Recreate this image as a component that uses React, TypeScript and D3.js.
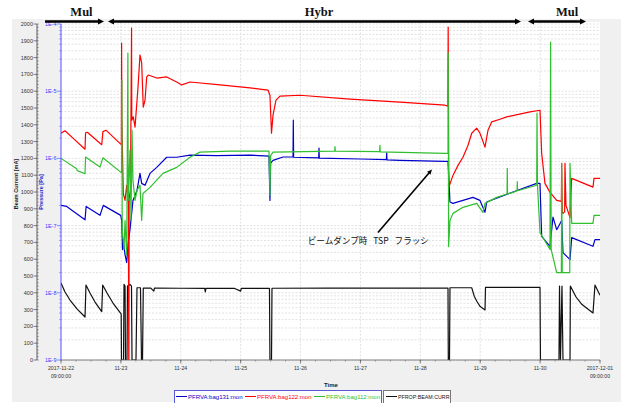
import * as d3 from "d3";

type Pt = [number, number];

const DAY_MS = 86400000;
const START = new Date(2017, 10, 22, 9, 0, 0);
const END = new Date(2017, 11, 1, 9, 0, 0);

// [days since 2017-11-22 09:00, value]
const bag131: Pt[] = [
  [0, 2.0e-7], [0.095, 1.93e-7], [0.401, 1.22e-7], [0.42, 1.93e-7], [0.651, 1.42e-7],
  [0.706, 2.0e-7], [0.997, 1.42e-7], [1.014, 1.19e-7], [1.027, 4.4e-8], [1.035, 6.19e-8],
  [1.069, 3.7e-8], [1.097, 2.82e-8], [1.119, 5.21e-8], [1.152, 8.7e-8], [1.202, 2.37e-7],
  [1.269, 3.34e-7], [1.319, 5.98e-7], [1.347, 4.25e-7], [1.403, 3.98e-7], [1.486, 5.98e-7],
  [1.598, 7.35e-7], [1.765, 1.04e-6], [1.932, 1.04e-6], [2.154, 1.12e-6], [2.6, 1.1e-6],
  [3.156, 1.12e-6], [3.473, 1.08e-6], [3.489, 2.37e-7], [3.5, 8.5e-7], [3.54, 9.33e-7],
  [3.707, 1.05e-6], [3.874, 1.05e-6], [3.879, 3.7e-6], [3.884, 1.04e-6], [4.303, 1.02e-6],
  [4.308, 1.42e-6], [4.313, 1.01e-6], [5.0, 9.8e-7], [5.433, 9.6e-7], [5.438, 1.21e-6],
  [5.443, 9.5e-7], [5.66, 9.33e-7], [6.412, 9.02e-7], [6.462, 9.02e-7], [6.495, 2.24e-7],
  [6.545, 2.14e-7], [6.712, 2.37e-7], [6.879, 2.63e-7], [6.996, 2.37e-7], [7.08, 1.58e-7],
  [7.108, 2.24e-7], [7.547, 3.16e-7], [7.943, 4.25e-7], [7.998, 4.25e-7], [8.026, 6.93e-8],
  [8.165, 4.92e-8], [8.215, 1.34e-7], [8.277, 8.7e-8], [8.36, 1.19e-7], [8.382, 3.96e-8],
  [8.444, 3.49e-8], [8.499, 3.12e-8], [8.527, 6.63e-8], [8.883, 4.92e-8], [8.916, 6.19e-8],
  [9, 6.19e-8],
];

const bag122: Pt[] = [
  [0, 2.37e-6], [0.067, 2.58e-6], [0.2, 2.0e-6], [0.401, 1.37e-6], [0.41, 2.4e-6],
  [0.44, 2.45e-6], [0.651, 1.68e-6], [0.68, 1.6e-6], [0.7, 2.5e-6], [0.751, 2.63e-6],
  [0.997, 1.63e-6], [1.008, 1.65e-6], [1.012, 5.2e-5], [1.016, 4e-6], [1.04, 3.0e-7],
  [1.069, 2.37e-7], [1.097, 3.98e-7], [1.124, 2.14e-7], [1.133, 4.0e-10], [1.138, 2.5e-7],
  [1.16, 3.5e-7], [1.178, 8.7e-5], [1.182, 3.7e-6], [1.207, 4.15e-6], [1.236, 2.91e-6],
  [1.286, 1.15e-5], [1.319, 3.46e-5], [1.347, 2.63e-5], [1.374, 5.78e-6], [1.403, 7.35e-6],
  [1.431, 1.63e-5], [1.458, 1.74e-5], [1.598, 1.57e-5], [1.765, 1.63e-5], [1.932, 1.37e-5],
  [2.015, 1.24e-5], [2.154, 1.37e-5], [2.655, 1.24e-5], [3.156, 1.12e-5], [3.456, 1.04e-5],
  [3.489, 8.7e-6], [3.515, 2.37e-6], [3.54, 4.4e-6], [3.59, 7.35e-6], [3.657, 8.43e-6],
  [3.991, 8.7e-6], [4.825, 7.6e-6], [5.66, 6.86e-6], [6.412, 6.19e-6], [6.46, 6.0e-6],
  [6.465, 9.0e-5], [6.475, 3.7e-7], [6.545, 5.58e-7], [6.629, 7.87e-7], [6.712, 1.04e-6],
  [6.796, 1.57e-6], [6.858, 2.37e-6], [6.941, 2.82e-6], [6.996, 2.37e-6], [7.08, 1.47e-6],
  [7.13, 2.63e-6], [7.191, 3.49e-6], [7.33, 3.83e-6], [7.442, 4.15e-6], [7.831, 4.92e-6],
  [7.998, 5.21e-6], [8.026, 1.19e-6], [8.081, 4.25e-7], [8.165, 3.12e-7], [8.277, 2.37e-7],
  [8.355, 2.3e-7], [8.36, 8.43e-7], [8.37, 1.6e-7], [8.382, 1.52e-7], [8.41, 1.6e-7],
  [8.415, 8.43e-7], [8.432, 2e-7], [8.499, 1.32e-7], [8.527, 5.04e-7], [8.883, 3.74e-7],
  [8.9, 5.04e-7], [9, 5.04e-7],
];

const bag112: Pt[] = [
  [0, 1.0e-6], [0.262, 7.03e-7], [0.27, 6.6e-7], [0.284, 6.52e-7], [0.401, 5.92e-7],
  [0.41, 1.05e-6], [0.651, 7.42e-7], [0.7, 1.02e-6], [0.997, 6.25e-7], [1.012, 6.2e-7],
  [1.016, 1.47e-5], [1.022, 8.7e-8], [1.052, 4.4e-8], [1.069, 1.19e-7], [1.097, 3.7e-8],
  [1.117, 3.7e-5], [1.122, 2.37e-7], [1.152, 1.32e-6], [1.169, 1.19e-7], [1.186, 2.63e-6],
  [1.202, 4.71e-7], [1.236, 2.37e-7], [1.269, 3.34e-7], [1.319, 3.98e-7], [1.347, 1.19e-7],
  [1.369, 3.01e-7], [1.486, 3.7e-7], [1.703, 5.98e-7], [1.932, 7.35e-7], [2.154, 1.04e-6],
  [2.321, 1.24e-6], [2.822, 1.28e-6], [3.473, 1.28e-6], [3.489, 2.82e-7], [3.5, 1.1e-6],
  [3.54, 1.24e-6], [4.57, 1.28e-6], [4.575, 1.5e-6], [4.58, 1.28e-6], [5.32, 1.26e-6],
  [5.326, 1.57e-6], [5.33, 1.25e-6], [6.412, 1.19e-6], [6.462, 1.19e-6], [6.466, 3.7e-5],
  [6.472, 4.87e-8], [6.495, 1.19e-7], [6.545, 1.52e-7], [6.712, 1.87e-7], [6.941, 2.14e-7],
  [7.046, 1.57e-7], [7.08, 2.14e-7], [7.275, 2.63e-7], [7.448, 2.95e-7], [7.452, 7.1e-7],
  [7.456, 2.96e-7], [7.547, 3.12e-7], [7.615, 3.3e-7], [7.619, 4.5e-7], [7.623, 3.3e-7],
  [7.943, 3.98e-7], [7.948, 4.71e-6], [7.956, 3.98e-7], [7.998, 7.87e-8], [8.165, 4.4e-8],
  [8.175, 5.4e-5], [8.185, 4.4e-8], [8.277, 2e-8], [8.355, 2e-8], [8.36, 8.43e-7],
  [8.37, 2e-8], [8.444, 2e-8], [8.495, 2e-8], [8.499, 8.43e-7], [8.527, 1.08e-7],
  [8.883, 1.08e-7], [8.9, 1.42e-7], [9, 1.42e-7],
];

const beamCurr: Pt[] = [
  [0, 458], [0.067, 405], [0.15, 357], [0.267, 304], [0.401, 256],
  [0.417, 446], [0.484, 399], [0.568, 345], [0.68, 288],
  [0.696, 446], [0.768, 399], [0.868, 339], [0.997, 278],
  [1.005, 275], [1.01, 0], [1.044, 0], [1.052, 450], [1.069, 440], [1.077, 0], [1.102, 0],
  [1.11, 440], [1.135, 445], [1.152, 450], [1.177, 440], [1.186, 0], [1.252, 0], [1.269, 430],
  [1.327, 430], [1.344, 0], [1.361, 0], [1.374, 428], [1.5, 428], [1.55, 410], [1.56, 428],
  [2.0, 427], [2.4, 426], [2.41, 405], [2.42, 426], [2.9, 426], [3.0, 410], [3.01, 426],
  [3.481, 426], [3.489, 0], [3.515, 0], [3.523, 427], [4.5, 428], [5.5, 428], [6.0, 428],
  [6.462, 428], [6.467, 0], [6.487, 0], [6.495, 430], [6.858, 430], [6.9, 380], [6.95, 345],
  [7.0, 318], [7.08, 298], [7.088, 432], [7.998, 432], [8.006, 0], [8.315, 0], [8.324, 440],
  [8.34, 0], [8.365, 440], [8.382, 0], [8.499, 0], [8.505, 440], [8.6, 375], [8.7, 330],
  [8.883, 280], [8.916, 446], [9, 385],
];

const seriesNames = ["PFRVA:bag131:mon", "PFRVA:bag122:mon", "PFRVA:bag112:mon", "PFROP:BEAM:CURR"];
const seriesColors = ["#0000cc", "#ff0000", "#2fbf2f", "#111111"];

const dayTicks = [0, 1, 2, 3, 4, 5, 6, 7, 8, 9];
const dayLabels = [
  ["2017-11-22", "09:00:00"], ["11-23"], ["11-24"], ["11-25"], ["11-26"],
  ["11-27"], ["11-28"], ["11-29"], ["11-30"], ["2017-12-01", "09:00:00"],
];
const decades = [1e-9, 1e-8, 1e-7, 1e-6, 1e-5, 1e-4];
const decadeLabels = ["1E-9", "1E-8", "1E-7", "1E-6", "1E-5", "1E-4"];

// operation modes: [from day, to day, label day, label]
const modes: [number, number, number, string][] = [
  [-0.267, 0.718, 0.342, "Mul"],
  [0.785, 7.681, 4.308, "Hybr"],
  [7.798, 8.766, 8.449, "Mul"],
];

const noteText = "ビームダンプ時 TSP フラッシ";
const noteFrom: Pt = [5.293, 7.87e-8];
const noteTo: Pt = [6.195, 6.86e-7];
const noteAt: Pt = [4.12, 5.4e-8];

const t = (d: number) => new Date(START.getTime() + d * DAY_MS);

export default function App() {
  const left = 61, right = 600, top = 24, bottom = 360;
  const x = d3.scaleTime().domain([START, END]).range([left, right]);
  const yP = d3.scaleLog().domain([1e-9, 1e-4]).range([bottom, top]);
  const yI = d3.scaleLinear().domain([0, 2000]).range([bottom, top]);
  const xd = (d: number) => x(t(d));

  const pLine = d3.line<Pt>().x((d) => xd(d[0])).y((d) => yP(d[1]));
  const iLine = d3.line<Pt>().x((d) => xd(d[0])).y((d) => yI(d[1]));

  const logMinor: number[] = [];
  decades.slice(0, 5).forEach((e) => {
    for (let m = 2; m <= 9; m++) logMinor.push(m * e);
  });
  const sixHours = d3.range(0, 9.01, 0.25);
  const iMajor = yI.ticks(20);
  const iMinor = d3.range(0, 2001, 20);

  const font = "'Liberation Sans', Arial, sans-serif";
  const arrowY = 21.5;

  const fx = xd(noteFrom[0]), fy = yP(noteFrom[1]);
  const tx = xd(noteTo[0]), ty = yP(noteTo[1]);
  const ang = Math.atan2(ty - fy, tx - fx);
  const ah = (px: number, py: number, a: number, len: number, w: number) => {
    const bx = px - len * Math.cos(a), by = py - len * Math.sin(a);
    const nx = -Math.sin(a) * w, ny = Math.cos(a) * w;
    return `M${px},${py}L${bx + nx},${by + ny}L${bx - nx},${by - ny}Z`;
  };

  const legendX = [176, 245, 314];

  return (
    <div style={{ position: "absolute", left: 0, top: 0 }}>
      <svg width={621} height={403} style={{ display: "block" }}>
        <rect x={0} y={0} width={621} height={403} fill="#fff" />
        <rect x={12} y={19} width={609} height={383} fill="#f0f0f0" />
        <rect x={left} y={22} width={right - left} height={bottom - 22} fill="#fff" />
        <defs>
          <clipPath id="plot">
            <rect x={left} y={22} width={right - left} height={bottom - 22} />
          </clipPath>
        </defs>

        {/* grid */}
        <g stroke="#d6d6d6" strokeWidth={0.7} strokeDasharray="2,1.5">
          {[...decades, ...logMinor].map((v, i) => (
            <line key={"h" + i} x1={left} x2={right} y1={yP(v)} y2={yP(v)} />
          ))}
          {dayTicks.slice(1, -1).map((d) => (
            <line key={"v" + d} x1={xd(d)} x2={xd(d)} y1={22} y2={bottom} />
          ))}
        </g>

        {/* series */}
        <g clipPath="url(#plot)" fill="none" strokeWidth={1.2} strokeLinejoin="round">
          <path d={iLine(beamCurr) ?? ""} stroke={seriesColors[3]} />
          <path d={pLine(bag131) ?? ""} stroke={seriesColors[0]} />
          <path d={pLine(bag122) ?? ""} stroke={seriesColors[1]} />
          <path d={pLine(bag112) ?? ""} stroke={seriesColors[2]} />
        </g>

        {/* beam current axis */}
        <g fontFamily={font} fontSize={5.5} fill="#333">
          <line x1={37} x2={37} y1={top} y2={bottom} stroke="#333" strokeWidth={0.8} />
          {iMinor.map((v) => (
            <line key={"im" + v} x1={37} x2={38.8} y1={yI(v)} y2={yI(v)} stroke="#555" strokeWidth={0.5} />
          ))}
          {iMajor.map((v) => (
            <g key={"iM" + v}>
              <line x1={33.5} x2={37} y1={yI(v)} y2={yI(v)} stroke="#333" strokeWidth={0.6} />
              <text x={33} y={yI(v) + 2} textAnchor="end">{v}</text>
            </g>
          ))}
          <text
            transform={`translate(18,184) rotate(-90)`}
            textAnchor="middle"
            fontWeight="bold"
            fill="#222"
          >
            Beam Current [mA]
          </text>
        </g>

        {/* pressure axis */}
        <g fontFamily={font} fontSize={5.5} fill="#3a3aff">
          <line x1={left} x2={left} y1={top} y2={bottom} stroke="#4040ff" strokeWidth={0.9} />
          {logMinor.map((v, i) => (
            <line key={"pm" + i} x1={left - 2} x2={left} y1={yP(v)} y2={yP(v)} stroke="#6060ff" strokeWidth={0.5} />
          ))}
          {decades.map((v, i) => (
            <g key={"pM" + i}>
              <line x1={left - 4} x2={left} y1={yP(v)} y2={yP(v)} stroke="#4040ff" strokeWidth={0.6} />
              <text x={left - 4.5} y={yP(v) + 2} textAnchor="end">{decadeLabels[i]}</text>
            </g>
          ))}
          <text
            transform={`translate(43,192) rotate(-90)`}
            textAnchor="middle"
            fontWeight="bold"
            fill="#2020d0"
          >
            Pressure [Pa]
          </text>
        </g>

        {/* time axis */}
        <g fontFamily={font} fontSize={5.2} fill="#333">
          <line x1={left} x2={right} y1={bottom} y2={bottom} stroke="#666" strokeWidth={0.8} />
          {sixHours.map((d) => (
            <line key={"xm" + d} x1={xd(d)} x2={xd(d)} y1={bottom} y2={bottom + 1.8} stroke="#666" strokeWidth={0.5} />
          ))}
          {dayTicks.map((d, i) => (
            <g key={"xM" + d}>
              <line x1={xd(d)} x2={xd(d)} y1={bottom} y2={bottom + 3.5} stroke="#444" strokeWidth={0.6} />
              {dayLabels[i].map((s, j) => (
                <text key={j} x={xd(d)} y={370 + j * 8.3} textAnchor="middle">{s}</text>
              ))}
            </g>
          ))}
          <text x={331} y={387} textAnchor="middle" fontWeight="bold" fontSize={6} fill="#222">Time</text>
        </g>

        {/* mode arrows */}
        <g>
          {modes.map(([a, b, lx, label], i) => {
            const x1 = xd(a), x2 = xd(b);
            return (
              <g key={"mode" + i}>
                <line x1={x1 + (i > 0 ? 4 : 0)} x2={x2 - 4} y1={arrowY} y2={arrowY} stroke="#000" strokeWidth={2.4} />
                <path d={ah(x2, arrowY, 0, 6, 3)} fill="#000" />
                {i > 0 && <path d={ah(x1, arrowY, Math.PI, 6, 3)} fill="#000" />}
                <text
                  x={xd(lx)}
                  y={16}
                  textAnchor="middle"
                  fontFamily="'Liberation Serif', 'Times New Roman', serif"
                  fontWeight="bold"
                  fontSize={12.5}
                  fill="#111"
                >
                  {label}
                </text>
              </g>
            );
          })}
        </g>

        {/* annotation */}
        <g>
          <line x1={fx} y1={fy} x2={tx - 4 * Math.cos(ang)} y2={ty - 4 * Math.sin(ang)} stroke="#000" strokeWidth={1.6} />
          <path d={ah(tx, ty, ang, 5, 2.2)} fill="#000" />
          <text
            x={xd(noteAt[0])}
            y={yP(noteAt[1])}
            fontFamily="'Noto Sans CJK JP', sans-serif"
            fontSize={8.6}
            wordSpacing={4}
            fill="#111"
          >
            {noteText}
          </text>
        </g>

        {/* legend */}
        <g fontFamily={font} fontSize={6}>
          <rect x={174.5} y={390.5} width={207} height={13} fill="#fff" stroke="#5a5ad8" strokeWidth={1} />
          {[0, 1, 2].map((k) => (
            <g key={"lg" + k}>
              <line x1={legendX[k]} x2={legendX[k] + 11} y1={396.5} y2={396.5} stroke={seriesColors[k]} strokeWidth={1} />
              <text x={legendX[k] + 12} y={398.7} fill={seriesColors[k]}>{seriesNames[k]}</text>
            </g>
          ))}
          <rect x={383.5} y={390.5} width={67} height={13} fill="#fff" stroke="#777" strokeWidth={1} />
          <line x1={386} x2={397} y1={396.5} y2={396.5} stroke={seriesColors[3]} strokeWidth={1} />
          <text x={398} y={398.7} fill="#111" textLength={51.5} lengthAdjust="spacingAndGlyphs">{seriesNames[3]}</text>
        </g>
      </svg>
    </div>
  );
}
